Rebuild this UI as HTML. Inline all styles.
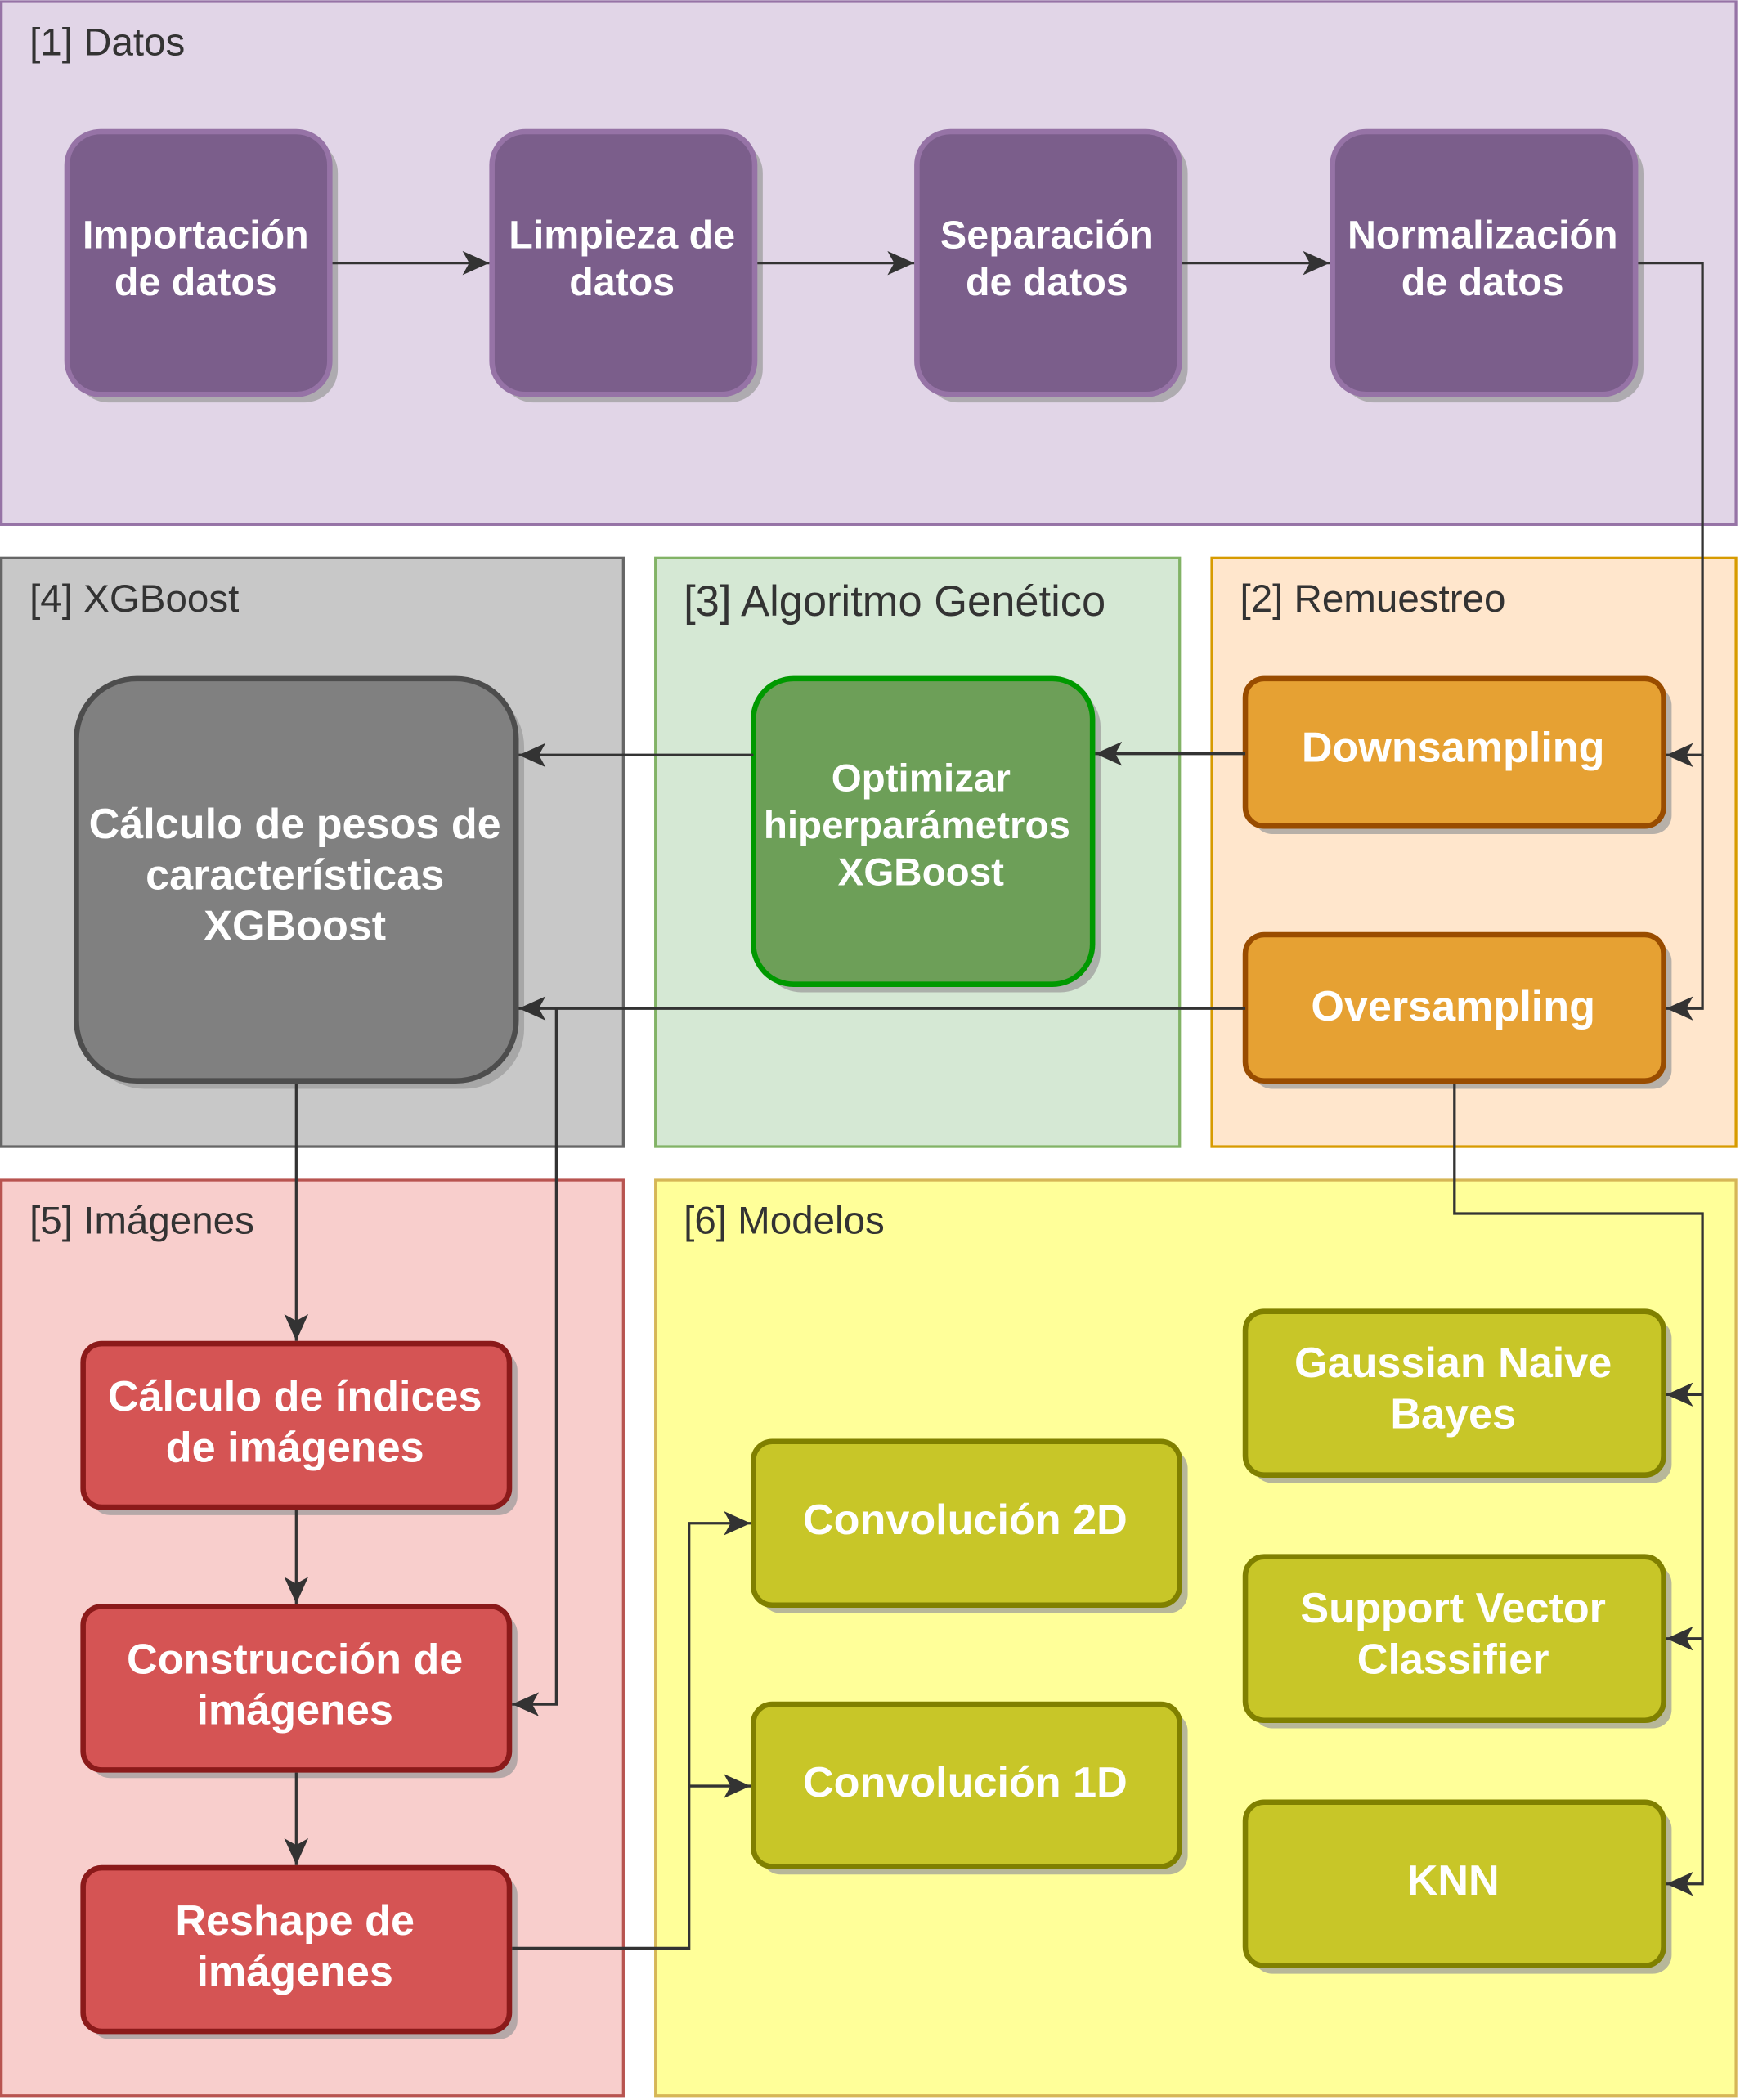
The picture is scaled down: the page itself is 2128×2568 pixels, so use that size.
<!DOCTYPE html>
<html><head><meta charset="utf-8"><style>
html,body{margin:0;padding:0;background:#fff;}
svg{display:block;}
.lbl{font-family:"Liberation Sans",sans-serif;font-size:29px;fill:#333;}
.nt{font-family:"Liberation Sans",sans-serif;font-weight:bold;fill:#fff;text-anchor:middle;}
</style></head><body>
<svg width="2128" height="2568" viewBox="0 0 1298 1566" xmlns="http://www.w3.org/2000/svg">
<defs>
<marker id="ar" markerWidth="22" markerHeight="20" refX="20" refY="10" orient="auto" markerUnits="userSpaceOnUse">
<path d="M0,1 L20,10 L0,19 L5,10 Z" fill="#333"/>
</marker>
</defs>
<rect x="1" y="1" width="1294" height="390" fill="#e1d5e7" stroke="#9673a6" stroke-width="2"/>
<rect x="1" y="416" width="464" height="439" fill="#c8c8c8" stroke="#666" stroke-width="2"/>
<rect x="489" y="416" width="391" height="439" fill="#d5e8d4" stroke="#82b366" stroke-width="2"/>
<rect x="904" y="416" width="391" height="439" fill="#ffe6cc" stroke="#d79b00" stroke-width="2"/>
<rect x="1" y="880" width="464" height="683" fill="#f8cecc" stroke="#b85450" stroke-width="2"/>
<rect x="489" y="880" width="806" height="683" fill="#ffff99" stroke="#d6b656" stroke-width="2"/>
<text class="lbl" x="22" y="41">[1] Datos</text>
<text class="lbl" x="22" y="456">[4] XGBoost</text>
<text class="lbl" x="510" y="459" style="font-size:32px">[3] Algoritmo Genético</text>
<text class="lbl" x="925" y="456">[2] Remuestreo</text>
<text class="lbl" x="22" y="920">[5] Imágenes</text>
<text class="lbl" x="510" y="920">[6] Modelos</text>

<g fill="#999" opacity="0.7">
<rect x="56" y="104" width="196" height="196" rx="25"/>
<rect x="373" y="104" width="196" height="196" rx="25"/>
<rect x="690" y="104" width="196" height="196" rx="25"/>
<rect x="1000" y="104" width="226" height="196" rx="25"/>
<rect x="63" y="512" width="328" height="300" rx="45"/>
<rect x="568" y="512" width="253" height="228" rx="30"/>
<rect x="935" y="512" width="312" height="110" rx="14"/>
<rect x="935" y="703" width="312" height="109" rx="14"/>
<rect x="68" y="1008" width="318" height="122" rx="14"/>
<rect x="68" y="1204" width="318" height="122" rx="14"/>
<rect x="68" y="1399" width="318" height="122" rx="14"/>
<rect x="568" y="1081" width="318" height="122" rx="14"/>
<rect x="568" y="1277" width="318" height="121" rx="14"/>
<rect x="935" y="984" width="312" height="122" rx="14"/>
<rect x="935" y="1167" width="312" height="122" rx="14"/>
<rect x="935" y="1350" width="312" height="122" rx="14"/>
</g>
<g fill="#7b5e8b" stroke="#9673a6" stroke-width="4">
<rect x="50" y="98" width="196" height="196" rx="25"/>
<rect x="367" y="98" width="196" height="196" rx="25"/>
<rect x="684" y="98" width="196" height="196" rx="25"/>
<rect x="994" y="98" width="226" height="196" rx="25"/>
</g>
<rect x="57" y="506" width="328" height="300" rx="45" fill="#808080" stroke="#4d4d4d" stroke-width="4"/>
<rect x="562" y="506" width="253" height="228" rx="30" fill="#6d9f58" stroke="#009900" stroke-width="4"/>
<g fill="#e6a133" stroke="#994c00" stroke-width="4">
<rect x="929" y="506" width="312" height="110" rx="14"/>
<rect x="929" y="697" width="312" height="109" rx="14"/>
</g>
<g fill="#d55454" stroke="#8b1a1a" stroke-width="4">
<rect x="62" y="1002" width="318" height="122" rx="14"/>
<rect x="62" y="1198" width="318" height="122" rx="14"/>
<rect x="62" y="1393" width="318" height="122" rx="14"/>
</g>
<g fill="#c8c628" stroke="#808000" stroke-width="4">
<rect x="562" y="1075" width="318" height="122" rx="14"/>
<rect x="562" y="1271" width="318" height="121" rx="14"/>
<rect x="929" y="978" width="312" height="122" rx="14"/>
<rect x="929" y="1161" width="312" height="122" rx="14"/>
<rect x="929" y="1344" width="312" height="122" rx="14"/>
</g>
<g class="nt" style="font-size:29.5px">
<text x="146" y="185">Importación</text><text x="146" y="220">de datos</text>
<text x="464" y="185">Limpieza de</text><text x="464" y="220">datos</text>
<text x="781" y="185">Separación</text><text x="781" y="220">de datos</text>
<text x="1106" y="185">Normalización</text><text x="1106" y="220">de datos</text>
</g>
<g class="nt" style="font-size:29px">
<text x="687" y="590">Optimizar</text><text x="684" y="625">hiperparámetros</text><text x="687" y="660">XGBoost</text>
</g>
<g class="nt" style="font-size:31.8px">
<text x="220" y="625">Cálculo de pesos de</text><text x="220" y="663">características</text><text x="220" y="701">XGBoost</text>
<text x="1084" y="568">Downsampling</text>
<text x="1084" y="761">Oversampling</text>
<text x="220" y="1052">Cálculo de índices</text><text x="220" y="1090">de imágenes</text>
<text x="220" y="1248">Construcción de</text><text x="220" y="1286">imágenes</text>
<text x="220" y="1443">Reshape de</text><text x="220" y="1481">imágenes</text>
<text x="720" y="1144">Convolución 2D</text>
<text x="720" y="1340">Convolución 1D</text>
<text x="1084" y="1027">Gaussian Naive</text><text x="1084" y="1065">Bayes</text>
<text x="1084" y="1210">Support Vector</text><text x="1084" y="1248">Classifier</text>
<text x="1084" y="1413">KNN</text>
</g>
<g fill="none" stroke="#333" stroke-width="2">
<path d="M248,196 H365" marker-end="url(#ar)"/>
<path d="M565,196 H682" marker-end="url(#ar)"/>
<path d="M882,196 H992" marker-end="url(#ar)"/>
<path d="M1222,196 H1270 V563 H1243" marker-end="url(#ar)"/>
<path d="M1270,563 V752 H1243" marker-end="url(#ar)"/>
<path d="M929,562 H817" marker-end="url(#ar)"/>
<path d="M562,563 H387" marker-end="url(#ar)"/>
<path d="M929,752 H387" marker-end="url(#ar)"/>
<path d="M415,752 V1271 H382" marker-end="url(#ar)"/>
<path d="M221,808 V1000" marker-end="url(#ar)"/>
<path d="M221,1126 V1196" marker-end="url(#ar)"/>
<path d="M221,1322 V1391" marker-end="url(#ar)"/>
<path d="M382,1453 H514 V1136 H560" marker-end="url(#ar)"/>
<path d="M514,1332 H560" marker-end="url(#ar)"/>
<path d="M1085,808 V905 H1270 V1405 H1243" marker-end="url(#ar)"/>
<path d="M1270,1040 H1243" marker-end="url(#ar)"/>
<path d="M1270,1222 H1243" marker-end="url(#ar)"/>
</g>
</svg>
</body></html>
